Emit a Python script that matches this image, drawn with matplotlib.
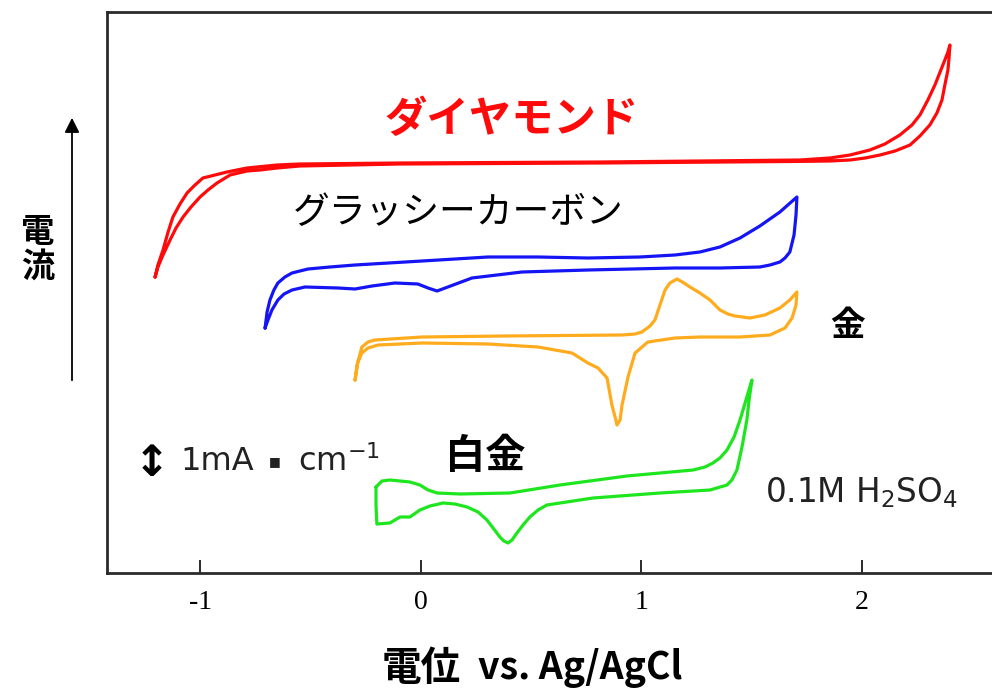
import matplotlib
matplotlib.use("Agg")
import matplotlib.pyplot as plt
from matplotlib.patches import FancyArrowPatch

# ---------------- data (potential V vs Ag/AgCl, current in mA/cm, offset per electrode) ----------------
# Diamond (red): anodic branch then cathodic branch, forming a closed loop
diamond_v_fwd = [-1.206, -1.193, -1.170, -1.147, -1.125, -1.093, -1.061, -1.025, -0.989, -0.934,
                 -0.880, -0.789, -0.653, -0.549, -0.095, 0.812, 1.719, 1.855, 1.946, 2.036,
                 2.104, 2.172, 2.227, 2.263, 2.299, 2.331, 2.358, 2.376, 2.390, 2.399]
diamond_i_fwd = [7.40, 7.70, 8.075, 8.525, 8.90, 9.225, 9.50, 9.70, 9.875, 9.95,
                 10.025, 10.125, 10.20, 10.225, 10.25, 10.275, 10.325, 10.375, 10.45, 10.575,
                 10.725, 10.95, 11.20, 11.45, 11.825, 12.20, 12.575, 12.825, 13.025, 13.20]
diamond_v_rev = [2.399, 2.395, 2.390, 2.376, 2.363, 2.340, 2.308, 2.263, 2.218, 2.150, 2.082,
                 2.014, 1.946, 1.855, 1.719, 0.812, -0.095, -0.549, -0.653, -0.730, -0.789,
                 -0.866, -0.925, -0.966, -1.002, -1.043, -1.079, -1.111, -1.138, -1.170,
                 -1.193, -1.206]
diamond_i_rev = [13.20, 12.875, 12.575, 12.20, 11.825, 11.50, 11.20, 10.925, 10.70, 10.55, 10.45,
                 10.375, 10.325, 10.30, 10.29, 10.25, 10.225, 10.175, 10.125, 10.075, 10.05,
                 9.95, 9.75, 9.575, 9.40, 9.15, 8.90, 8.625, 8.325, 7.95,
                 7.65, 7.40]

# Glassy carbon (blue)
gc_v_fwd = [-0.707, -0.698, -0.685, -0.667, -0.649, -0.617, -0.585, -0.549, -0.512, -0.413,
            -0.299, 0.005, 0.304, 0.531, 0.757, 0.993, 1.152, 1.265, 1.356, 1.447,
            1.537, 1.628, 1.705]
gc_i_fwd = [6.125, 6.525, 6.825, 7.075, 7.25, 7.40, 7.50, 7.55, 7.60, 7.65,
            7.70, 7.80, 7.90, 7.90, 7.875, 7.90, 7.95, 8.025, 8.15, 8.375,
            8.675, 9.025, 9.40]
gc_v_rev = [1.705, 1.701, 1.692, 1.673, 1.651, 1.628, 1.583, 1.537, 1.356, 1.152,
            0.757, 0.458, 0.231, 0.122, 0.073, 0.032, -0.014, -0.118, -0.222, -0.299,
            -0.376, -0.526, -0.585, -0.621, -0.649, -0.676, -0.694, -0.707]
gc_i_rev = [9.40, 8.95, 8.45, 8.025, 7.875, 7.775, 7.70, 7.65, 7.625, 7.625,
            7.575, 7.525, 7.375, 7.15, 7.05, 7.125, 7.225, 7.25, 7.175, 7.10,
            7.125, 7.15, 7.075, 6.975, 6.825, 6.575, 6.325, 6.125]

# Gold (orange)
au_v_fwd = [-0.299, -0.290, -0.268, -0.240, -0.209, 0.005, 0.381, 0.912, 0.971, 1.002,
            1.039, 1.061, 1.084, 1.107, 1.129, 1.161, 1.193, 1.220, 1.265, 1.311,
            1.356, 1.392, 1.424, 1.492, 1.560, 1.628, 1.673, 1.705]
au_i_fwd = [4.825, 5.20, 5.65, 5.775, 5.825, 5.90, 5.925, 5.95, 5.975, 6.025,
            6.175, 6.325, 6.70, 7.075, 7.25, 7.35, 7.25, 7.15, 7.00, 6.825,
            6.575, 6.475, 6.425, 6.375, 6.45, 6.625, 6.825, 7.025]
au_v_rev = [1.705, 1.701, 1.683, 1.651, 1.583, 1.447, 1.265, 1.152, 1.029, 0.971,
            0.939, 0.912, 0.903, 0.889, 0.884, 0.866, 0.844, 0.803, 0.757, 0.685,
            0.531, 0.304, 0.005, -0.195, -0.240, -0.268, -0.286, -0.299]
au_i_rev = [7.025, 6.70, 6.375, 6.125, 5.95, 5.90, 5.90, 5.875, 5.775, 5.50,
            4.90, 4.20, 3.825, 3.70, 3.825, 4.20, 4.875, 5.125, 5.25, 5.50,
            5.65, 5.725, 5.75, 5.70, 5.625, 5.50, 5.275, 4.825]

# Platinum (green)
pt_v_fwd = [-0.204, -0.177, -0.141, -0.095, -0.050, -0.005, 0.032, 0.073, 0.177, 0.404,
            0.630, 0.934, 1.234, 1.288, 1.324, 1.356, 1.388, 1.420, 1.447, 1.474, 1.501]
pt_i_fwd = [2.15, 2.30, 2.325, 2.30, 2.275, 2.20, 2.075, 2.00, 1.975, 2.00,
            2.20, 2.425, 2.575, 2.65, 2.75, 2.875, 3.075, 3.40, 3.825, 4.325, 4.825]
pt_v_rev = [1.501, 1.488, 1.478, 1.456, 1.433, 1.410, 1.388, 1.311, 1.084, 0.780,
            0.571, 0.531, 0.494, 0.463, 0.435, 0.413, 0.395, 0.376, 0.358, 0.327,
            0.299, 0.259, 0.209, 0.154, 0.100, 0.041, -0.005, -0.050, -0.095, -0.141,
            -0.200, -0.204, -0.204]
pt_i_rev = [4.825, 4.325, 3.825, 3.15, 2.575, 2.325, 2.20, 2.075, 2.00, 1.875,
            1.70, 1.575, 1.40, 1.20, 1.00, 0.825, 0.75, 0.80, 0.90, 1.125,
            1.325, 1.525, 1.65, 1.725, 1.75, 1.675, 1.575, 1.40, 1.40, 1.25,
            1.225, 1.70, 2.15]

x_ticks = [-1, 0, 1, 2]
x_tick_labels = ["-1", "0", "1", "2"]

# ---------------- figure ----------------
fig = plt.figure(figsize=(9.92, 6.89), dpi=100)
ax = fig.add_axes([107 / 992, 116 / 689, 889 / 992, 561 / 689])
ax.set_xlim(-1.424, 2.608)
ax.set_ylim(0, 14.025)

lw = 2.3
series = [
    (diamond_v_fwd + diamond_v_rev, diamond_i_fwd + diamond_i_rev, "#ff0a0a"),
    (gc_v_fwd + gc_v_rev, gc_i_fwd + gc_i_rev, "#1414f5"),
    (au_v_fwd + au_v_rev, au_i_fwd + au_i_rev, "#ffab1e"),
    (pt_v_fwd + pt_v_rev, pt_i_fwd + pt_i_rev, "#1ee61e"),
]
for v, i, c in series:
    ax.plot(v, i, color=c, lw=lw, solid_joinstyle="round", solid_capstyle="round")

for s in ax.spines.values():
    s.set_color("#2a2a2a")
    s.set_linewidth(2.0)

ax.set_yticks([])
ax.set_xticks(x_ticks)
ax.set_xticklabels(x_tick_labels, fontfamily="Liberation Serif", fontsize=20)
ax.tick_params(axis="x", direction="in", length=9.5, width=1.4, color="#2a2a2a", pad=12)

jp = ["Noto Sans CJK JP", "DejaVu Sans"]
ax.text(0.413, 11.33, "ダイヤモンド", color="#ff0a0a", fontsize=30.5, fontweight="bold",
        family=jp, ha="center", va="center")
ax.text(0.168, 9.0, "グラッシーカーボン", color="black", fontsize=26.5,
        family=jp, ha="center", va="center")
ax.text(1.937, 6.2, "金", color="black", fontsize=25, fontweight="bold",
        family=jp, ha="center", va="center")
ax.text(0.29, 2.9, "白金", color="black", fontsize=29, fontweight="bold",
        family=jp, ha="center", va="center")

# scale bar annotation
ax.text(-1.22, 2.72, "↕", color="black", fontsize=31, fontweight="bold",
        family=["DejaVu Sans"], ha="center", va="center")
ax.text(-1.093, 2.78, "1mA", color="#222222", fontsize=23,
        family=["DejaVu Sans"], ha="left", va="center")
ax.text(-0.662, 2.78, "■", color="#222222", fontsize=9,
        family=["DejaVu Sans"], ha="center", va="center")
ax.text(-0.558, 2.78, "cm$^{-1}$", color="#222222", fontsize=23,
        family=["DejaVu Sans"], ha="left", va="center")
ax.text(1.56, 2.02, "0.1M H$_2$SO$_4$", color="#222222", fontsize=23.5,
        family=["DejaVu Sans"], ha="left", va="center")

# y-axis label with arrow
fig.text(38 / 992, 1 - 250 / 689, "電\n流", fontsize=24, fontweight="bold",
         family=jp, ha="center", va="center", linespacing=1.05)
fig.add_artist(FancyArrowPatch(
    (72 / 992, 1 - 383 / 689), (72 / 992, 1 - 115 / 689), transform=fig.transFigure,
    arrowstyle="-|>", mutation_scale=22, lw=1.3, color="black"))

# x-axis label
fig.text(421 / 992, 1 - 668 / 689, "電位", fontsize=28.5, fontweight="bold",
         family=jp, ha="center", va="center")
fig.text(478 / 992, 1 - 668 / 689, "vs. Ag/AgCl", fontsize=27, fontweight="bold",
         family=jp, ha="left", va="center")

fig.savefig("out.png", dpi=100)
